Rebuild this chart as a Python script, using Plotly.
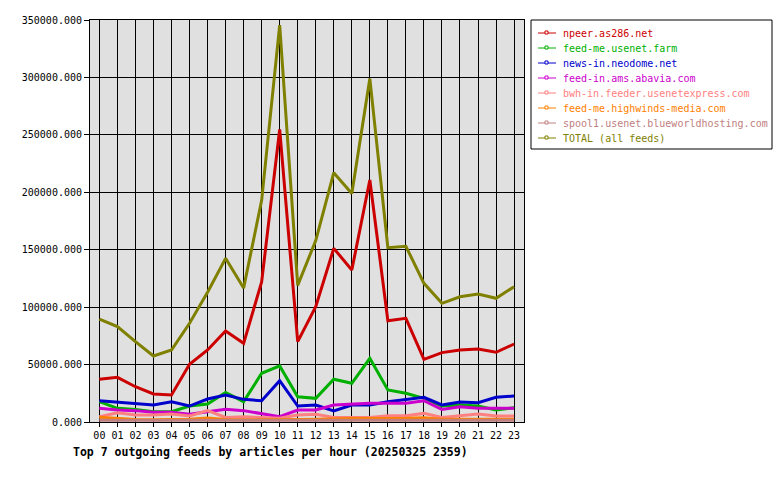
import plotly.graph_objects as go

hours = list(range(24))
hour_labels = [f"{h:02d}" for h in hours]

names = [
    "npeer.as286.net",
    "feed-me.usenet.farm",
    "news-in.neodome.net",
    "feed-in.ams.abavia.com",
    "bwh-in.feeder.usenetexpress.com",
    "feed-me.highwinds-media.com",
    "spool1.usenet.blueworldhosting.com",
    "TOTAL (all feeds)",
]
colors = ["#cc0000", "#00b000", "#0000cc", "#cc00cc", "#ff8080", "#ff8000", "#c08080", "#808000"]

npeer = [37200, 38900, 30700, 24400, 23500, 50200, 62700, 79200, 68500, 122000, 254800, 70000,
         100400, 151200, 132300, 210700, 88200, 90300, 54600, 60400, 62700, 63600, 60700, 67900]
usenet_farm = [17700, 11900, 11000, 9000, 9000, 13900, 15700, 25800, 17700, 42400, 48800, 22000,
               20600, 37200, 33700, 55500, 27900, 25000, 20600, 13900, 14800, 13900, 10400, 12500]
neodome = [18500, 17100, 16300, 14800, 17700, 13900, 20000, 23500, 19700, 18500, 36000, 13900,
           14800, 9600, 14800, 14800, 17700, 19700, 21500, 14800, 17400, 16800, 21500, 22600]
abavia = [11900, 10400, 9900, 8400, 8400, 6700, 9000, 11000, 9900, 7500, 4600, 10400,
          10400, 14800, 15700, 16300, 16300, 16300, 18500, 11000, 13300, 11900, 11900, 11900]
usenetexpress = [4600, 8000, 6000, 6000, 7000, 5200, 9900, 4000, 4600, 4000, 3200, 6000,
                 6700, 4000, 4000, 4000, 5500, 5500, 7500, 4000, 5500, 7000, 5200, 5200]
highwinds = [4200, 3200, 2200, 2000, 2000, 2500, 3500, 2200, 2000, 2000, 1800, 2200,
             2500, 3000, 3000, 3000, 3000, 3200, 3800, 2500, 2500, 2500, 2500, 2500]
blueworld = [1500, 1500, 1500, 1500, 1500, 1500, 1500, 1500, 1500, 1500, 1500, 1500,
             1500, 1500, 1500, 1500, 1500, 1500, 1500, 1500, 1500, 1500, 1500, 1500]
total = [89500, 83000, 70000, 57500, 62700, 86000, 113000, 142500, 116600, 193000, 345600, 119000,
         158000, 217000, 199000, 299000, 151800, 153000, 120700, 103300, 109000, 111400, 107700, 117800]

series = [npeer, usenet_farm, neodome, abavia, usenetexpress, highwinds, blueworld, total]

y_ticks = list(range(0, 350001, 50000))
title_text = "Top 7 outgoing feeds by articles per hour (20250325 2359)"

MONO = "DejaVu Sans Mono"

fig = go.Figure()
for name, color, vals in zip(names, colors, series):
    fig.add_trace(go.Scatter(x=hours, y=vals, mode="lines", name=name,
                             line=dict(color=color, width=3), showlegend=False,
                             hoverinfo="skip"))

W, H = 780, 480
L, R, T, B = 90, 524, 20, 422
pw, ph = R - L, B - T

def px(x):
    return (x - L) / pw

def py(y):
    return (B - y) / ph

fig.update_layout(
    width=W, height=H,
    margin=dict(l=L, r=W - R, t=T, b=H - B, pad=0),
    paper_bgcolor="white",
    plot_bgcolor="#e0e0e0",
    font=dict(family=MONO, size=10, color="black"),
    showlegend=False,
)
fig.update_xaxes(
    range=[-0.52, 23.55], tickmode="array", tickvals=hours, ticktext=hour_labels,
    showgrid=True, gridcolor="black", gridwidth=1,
    showline=True, linecolor="black", linewidth=1, mirror=True,
    ticks="outside", ticklen=4, tickcolor="black", zeroline=False,
    tickfont=dict(family=MONO, size=10),
)
fig.update_yaxes(
    range=[0, 350000], tickmode="array", tickvals=y_ticks,
    ticktext=[f"{v:.3f}" for v in y_ticks],
    showgrid=True, gridcolor="black", gridwidth=1,
    showline=True, linecolor="black", linewidth=1, mirror=True,
    ticks="outside", ticklen=5, tickcolor="black", zeroline=False,
    tickfont=dict(family=MONO, size=10),
)

# Title below the plot
fig.add_annotation(text="<b>" + title_text + "</b>", xref="paper", yref="paper",
                   x=px(71), y=py(452), xanchor="left", yanchor="middle",
                   showarrow=False, font=dict(family=MONO, size=11.5, color="black"))

# Custom legend
box_l, box_t, box_r, box_b = 531, 20, 772, 149
fig.add_shape(type="rect", xref="paper", yref="paper",
              x0=px(box_l), x1=px(box_r), y0=py(box_b), y1=py(box_t),
              line=dict(color="black", width=1), fillcolor="white", layer="above")
for i, (name, color) in enumerate(zip(names, colors)):
    yc = 33 + 15 * i
    fig.add_shape(type="line", xref="paper", yref="paper",
                  x0=px(538), x1=px(556), y0=py(yc), y1=py(yc),
                  line=dict(color=color, width=1), layer="above")
    fig.add_shape(type="rect", xref="paper", yref="paper",
                  x0=px(545), x1=px(548), y0=py(yc + 1), y1=py(yc - 2),
                  line=dict(color=color, width=1), fillcolor="white", layer="above")
    fig.add_annotation(text=name, xref="paper", yref="paper",
                       x=px(561), y=py(yc), xanchor="left", yanchor="middle",
                       showarrow=False, font=dict(family=MONO, size=10, color=color))

fig.write_html("out.html")
